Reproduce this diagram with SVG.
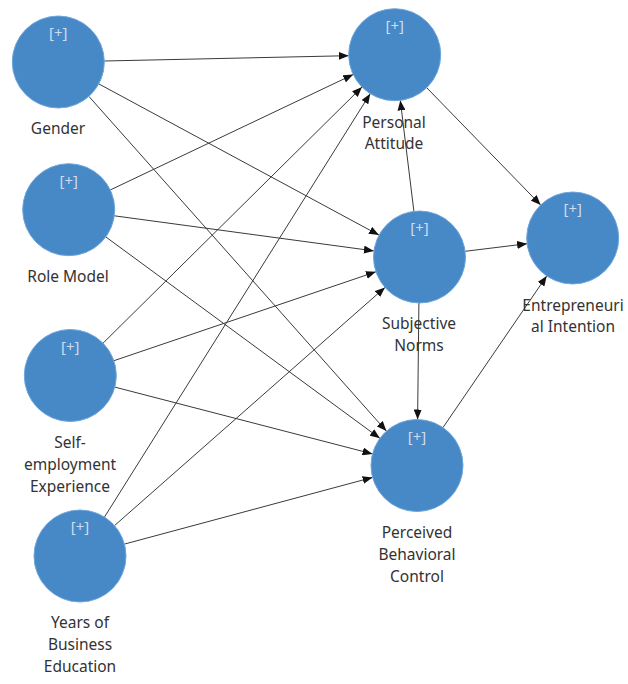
<svg xmlns="http://www.w3.org/2000/svg" width="628" height="684" viewBox="0 0 628 684">
<defs>
<marker id="ah" markerWidth="10" markerHeight="8" refX="10" refY="4" orient="auto" markerUnits="userSpaceOnUse">
<path d="M0,0 L10,4 L0,8 z" fill="#111"/>
</marker>
<style>
.c{fill:#4788c7;stroke:#6fa6dc;stroke-width:1}
.p{font-family:"Noto Sans","Liberation Sans",sans-serif;font-size:15px;fill:#cfdcf0;text-anchor:middle}
.t{font-family:"Noto Sans","Liberation Sans",sans-serif;font-size:15.5px;fill:#333;text-anchor:middle}
#edges line{stroke:#3a3a3a;stroke-width:1;marker-end:url(#ah)}
</style>
</defs>
<rect width="628" height="684" fill="#fff"/>
<g id="edges">
<line x1="104.3" y1="61.0" x2="348.7" y2="55.7"/>
<line x1="98.8" y1="83.9" x2="379.0" y2="235.1"/>
<line x1="88.9" y1="96.4" x2="386.4" y2="431.1"/>
<line x1="110.2" y1="190.0" x2="353.2" y2="74.5"/>
<line x1="114.3" y1="215.8" x2="373.9" y2="250.9"/>
<line x1="105.8" y1="236.9" x2="379.9" y2="438.3"/>
<line x1="103.0" y1="343.2" x2="362.0" y2="87.0"/>
<line x1="113.9" y1="360.7" x2="375.9" y2="271.8"/>
<line x1="114.8" y1="387.1" x2="372.5" y2="453.9"/>
<line x1="104.5" y1="517.0" x2="370.2" y2="93.7"/>
<line x1="114.5" y1="525.6" x2="385.0" y2="287.4"/>
<line x1="124.4" y1="544.1" x2="372.6" y2="477.4"/>
<line x1="426.7" y1="87.7" x2="540.7" y2="205.0"/>
<line x1="465.1" y1="251.3" x2="527.1" y2="243.7"/>
<line x1="413.9" y1="211.3" x2="400.3" y2="100.4"/>
<line x1="418.9" y1="303.0" x2="417.6" y2="419.5"/>
<line x1="443.0" y1="427.5" x2="546.7" y2="276.0"/>
</g>
<g id="gender">
<circle class="c" cx="58.3" cy="62" r="46"/>
<text class="p" x="58.3" y="38">[+]</text>
<text class="t" x="58" y="134">Gender</text>
</g>
<g id="role-model">
<circle class="c" cx="68.7" cy="209.7" r="46"/>
<text class="p" x="68.7" y="186">[+]</text>
<text class="t" x="68" y="282">Role Model</text>
</g>
<g id="self-employment">
<circle class="c" cx="70.3" cy="375.5" r="46"/>
<text class="p" x="70.3" y="352">[+]</text>
<text class="t" x="70" y="448">Self-</text>
<text class="t" x="70" y="470">employment</text>
<text class="t" x="70" y="492">Experience</text>
</g>
<g id="years-business-education">
<circle class="c" cx="80" cy="556" r="46"/>
<text class="p" x="80" y="532">[+]</text>
<text class="t" x="80" y="628">Years of</text>
<text class="t" x="80" y="650">Business</text>
<text class="t" x="80" y="672">Education</text>
</g>
<g id="personal-attitude">
<circle class="c" cx="394.7" cy="54.7" r="46"/>
<text class="p" x="394.7" y="31">[+]</text>
<text class="t" x="394" y="128">Personal</text>
<text class="t" x="394" y="149">Attitude</text>
</g>
<g id="subjective-norms">
<circle class="c" cx="419.5" cy="257" r="46"/>
<text class="p" x="419.5" y="233">[+]</text>
<text class="t" x="419" y="329">Subjective</text>
<text class="t" x="419" y="351">Norms</text>
</g>
<g id="perceived-behavioral-control">
<circle class="c" cx="417" cy="465.5" r="46"/>
<text class="p" x="417" y="442">[+]</text>
<text class="t" x="417" y="538">Perceived</text>
<text class="t" x="417" y="560">Behavioral</text>
<text class="t" x="417" y="582">Control</text>
</g>
<g id="entrepreneurial-intention">
<circle class="c" cx="572.7" cy="238" r="46"/>
<text class="p" x="572.7" y="214">[+]</text>
<text class="t" x="573" y="311">Entrepreneuri</text>
<text class="t" x="573" y="332">al Intention</text>
</g>
</svg>
